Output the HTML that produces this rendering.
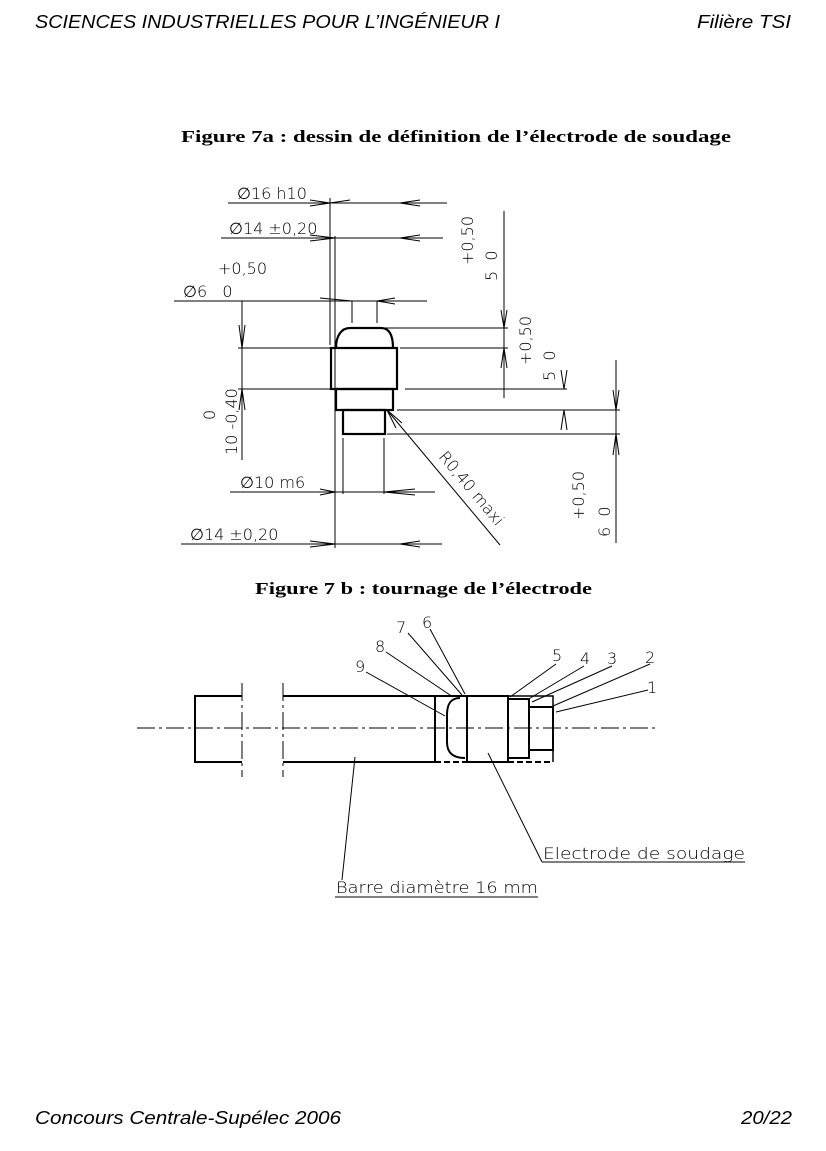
<!DOCTYPE html>
<html><head><meta charset="utf-8"><style>
html,body{margin:0;padding:0;background:#fff;}
svg{display:block}
.h{font-family:"Liberation Sans",sans-serif;font-style:italic;font-size:18px}
.t{font-family:"Liberation Serif",serif;font-weight:bold;font-size:16.5px}
.d{font-family:"DejaVu Sans","Liberation Sans",sans-serif;font-size:16px;font-weight:200}
</style></head><body>
<svg width="826" height="1151" viewBox="0 0 826 1151" xmlns="http://www.w3.org/2000/svg">
<text class="h" x="35" y="28" textLength="465" lengthAdjust="spacingAndGlyphs">SCIENCES INDUSTRIELLES POUR L’INGÉNIEUR I</text>
<text class="h" x="697" y="28" textLength="94" lengthAdjust="spacingAndGlyphs">Filière TSI</text>
<text class="t" x="181" y="142" textLength="550" lengthAdjust="spacingAndGlyphs">Figure 7a : dessin de définition de l’électrode de soudage</text>
<text class="t" x="255" y="594" textLength="337" lengthAdjust="spacingAndGlyphs">Figure 7 b : tournage de l’électrode</text>
<text class="h" x="35" y="1124" textLength="306" lengthAdjust="spacingAndGlyphs">Concours Centrale-Supélec 2006</text>
<text class="h" x="741" y="1124" textLength="51" lengthAdjust="spacingAndGlyphs">20/22</text>

<g stroke="#000" fill="none" stroke-width="1">
<line x1="228" y1="203" x2="447" y2="203"/>
<line x1="221" y1="238" x2="443" y2="238"/>
<line x1="174" y1="301" x2="427" y2="301"/>
<line x1="230" y1="492" x2="435" y2="492"/>
<line x1="181" y1="544" x2="442" y2="544"/>
<line x1="330" y1="198" x2="330" y2="345"/>
<line x1="335" y1="236" x2="335" y2="548"/>
<line x1="352" y1="301" x2="352" y2="323"/>
<line x1="377" y1="301" x2="377" y2="323"/>
<line x1="343" y1="438" x2="343" y2="494"/>
<line x1="384" y1="438" x2="384" y2="494"/>
<line x1="384" y1="328" x2="508" y2="328"/>
<line x1="238" y1="348" x2="330" y2="348"/>
<line x1="400" y1="348" x2="508" y2="348"/>
<line x1="238" y1="389" x2="330" y2="389"/>
<line x1="405" y1="389" x2="567" y2="389"/>
<line x1="397" y1="410" x2="620" y2="410"/>
<line x1="387" y1="434" x2="620" y2="434"/>
<line x1="242" y1="301" x2="242" y2="460"/>
<line x1="504" y1="211" x2="504" y2="398"/>
<line x1="616" y1="360" x2="616" y2="543"/>
<line x1="387" y1="410" x2="500" y2="545"/>
<path d="M310 200 L330 203 L310 206 M350 200 L330 203 M420 200 L400 203 L420 206 M310 235 L335 238 L310 241 M420 235 L400 238 L420 241 M320 298 L352 301 M395 298 L377 301 L395 304 M320 489 L335 492 L320 495 M415 489 L384 492 L415 495 M310 541 L335 544 L310 547 M420 541 L400 544 L420 547 M239 325 L242 348 L245 325 M239 410 L242 389 L245 410 M501 310 L504 328 L507 310 M501 368 L504 348 L507 368 M561 370 L564 389 L567 370 M561 430 L564 410 L567 430 M613 390 L616 410 L619 390 M613 455 L616 434 L619 455 M396 428 L387 410 L402 423"/>
</g>
<g stroke="#000" fill="none" stroke-width="2.2">
<path d="M336 348 C336 335 342 328 350 328 L381 328 C389 328 393 335 393 348"/>
<rect x="331" y="348" width="66" height="41"/>
<rect x="336" y="389" width="57" height="21"/>
<rect x="343" y="410" width="42" height="24"/>
</g>
<g class="d" fill="#000">
<text x="237" y="199">∅16 h10</text>
<text x="229" y="234">∅14 ±0,20</text>
<text x="218" y="274">+0,50</text>
<text x="183" y="297">∅6&#160;&#160;&#160;0</text>
<text x="240" y="488">∅10 m6</text>
<text x="190" y="540">∅14 ±0,20</text>
<text transform="translate(237,455) rotate(-90)">10 -0,40</text>
<text transform="translate(215,420) rotate(-90)">0</text>
<text transform="translate(473,265) rotate(-90)">+0,50</text>
<text transform="translate(497,281) rotate(-90)">5&#160;&#160;0</text>
<text transform="translate(531,365) rotate(-90)">+0,50</text>
<text transform="translate(555,381) rotate(-90)">5&#160;&#160;0</text>
<text transform="translate(584,520) rotate(-90)">+0,50</text>
<text transform="translate(610,537) rotate(-90)">6&#160;&#160;0</text>
<text transform="translate(438,457) rotate(50)">R0,40 maxi</text>
</g>

<g stroke="#000" fill="none" stroke-width="1">
<line x1="137" y1="728" x2="655" y2="728" stroke-dasharray="18,4,3,4"/>
<line x1="242" y1="683" x2="242" y2="777" stroke-dasharray="18,4,3,4"/>
<line x1="283" y1="683" x2="283" y2="777" stroke-dasharray="18,4,3,4"/>
<path d="M355 757 L342 880 M335 897 L538 897 M488 753 L542 862 M542 862 L745 862"/>
<path d="M366 672 L445 716 M386 652 L453 697 M408 633 L462 695 M430 629 L465 694 M556 664 L510 697 M584 666 L527 700 M612 666 L532 702 M650 664 L553 706 M648 690 L556 712"/>
</g>
<g stroke="#000" fill="none" stroke-width="2">
<path d="M242 696 L195 696 L195 762 L242 762"/>
<path d="M283 696 L467 696 M283 762 L435 762"/>
<line x1="435" y1="696" x2="435" y2="762"/>
<path d="M460 698 C450 698 447 705 447 715 L447 742 C447 752 452 758 465 758"/>
<rect x="467" y="696" width="41" height="66"/>
<rect x="508" y="699" width="21" height="59"/>
<rect x="529" y="707" width="24" height="43"/>
<path d="M508 696 L553 696 L553 707 M553 750 L553 762" stroke-width="1.5"/>
<path d="M435 762 L467 762 M508 762 L553 762" stroke-dasharray="6,3"/>
</g>
<g class="d" fill="#000" font-size="16">
<text x="355" y="672">9</text>
<text x="375" y="652">8</text>
<text x="396" y="633">7</text>
<text x="422" y="628">6</text>
<text x="552" y="661">5</text>
<text x="580" y="664">4</text>
<text x="607" y="664">3</text>
<text x="645" y="663">2</text>
<text x="647" y="693">1</text>
<text x="543" y="859" textLength="202" lengthAdjust="spacingAndGlyphs">Electrode de soudage</text>
<text x="336" y="893" textLength="202" lengthAdjust="spacingAndGlyphs">Barre diamètre 16 mm</text>
</g>
</svg>
</body></html>
